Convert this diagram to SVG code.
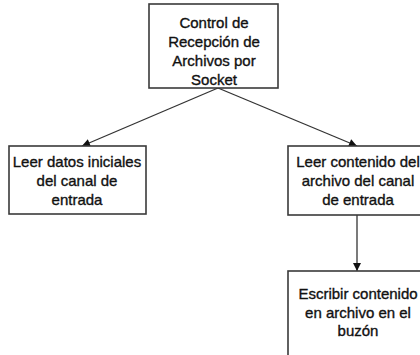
<svg xmlns="http://www.w3.org/2000/svg" width="420" height="355" viewBox="0 0 420 355">
<defs>
<marker id="arr" viewBox="0 0 10 10" refX="10" refY="5" markerWidth="9" markerHeight="8" markerUnits="userSpaceOnUse" orient="auto">
<path d="M0,0 L10,5 L0,10 z" fill="#111"/>
</marker>
<style>
.box{fill:#fff;stroke:#3a3a3a;stroke-width:1.6}
.t{font-family:"Liberation Sans",Arial,sans-serif;font-size:15px;fill:#111;stroke:#111;stroke-width:0.35;text-anchor:middle}
.c{stroke:#333;stroke-width:1.3;fill:none}
</style>
</defs>
<rect width="420" height="355" fill="#fff"/>
<g id="connectors">
<line class="c" x1="218" y1="88" x2="82" y2="146" marker-end="url(#arr)"/>
<line class="c" x1="218" y1="88" x2="357" y2="146" marker-end="url(#arr)"/>
<line class="c" x1="357" y1="215" x2="357" y2="271" marker-end="url(#arr)"/>
</g>
<g id="n1">
<rect class="box" x="149" y="4" width="129" height="84"/>
<text class="t" x="214" y="28">Control de</text>
<text class="t" x="214" y="47">Recepción de</text>
<text class="t" x="214" y="66">Archivos por</text>
<text class="t" x="214" y="85">Socket</text>
</g>
<g id="n2">
<rect class="box" x="9" y="146" width="137" height="68"/>
<text class="t" x="77" y="167">Leer datos iniciales</text>
<text class="t" x="77" y="186">del canal de</text>
<text class="t" x="77" y="205">entrada</text>
</g>
<g id="n3">
<rect class="box" x="288" y="146" width="140" height="69"/>
<text class="t" x="358" y="167">Leer contenido del</text>
<text class="t" x="358" y="186">archivo del canal</text>
<text class="t" x="358" y="205">de entrada</text>
</g>
<g id="n4">
<rect class="box" x="288" y="271" width="140" height="90"/>
<text class="t" x="358" y="299">Escribir contenido</text>
<text class="t" x="358" y="318">en archivo en el</text>
<text class="t" x="358" y="336">buzón</text>
</g>
</svg>
